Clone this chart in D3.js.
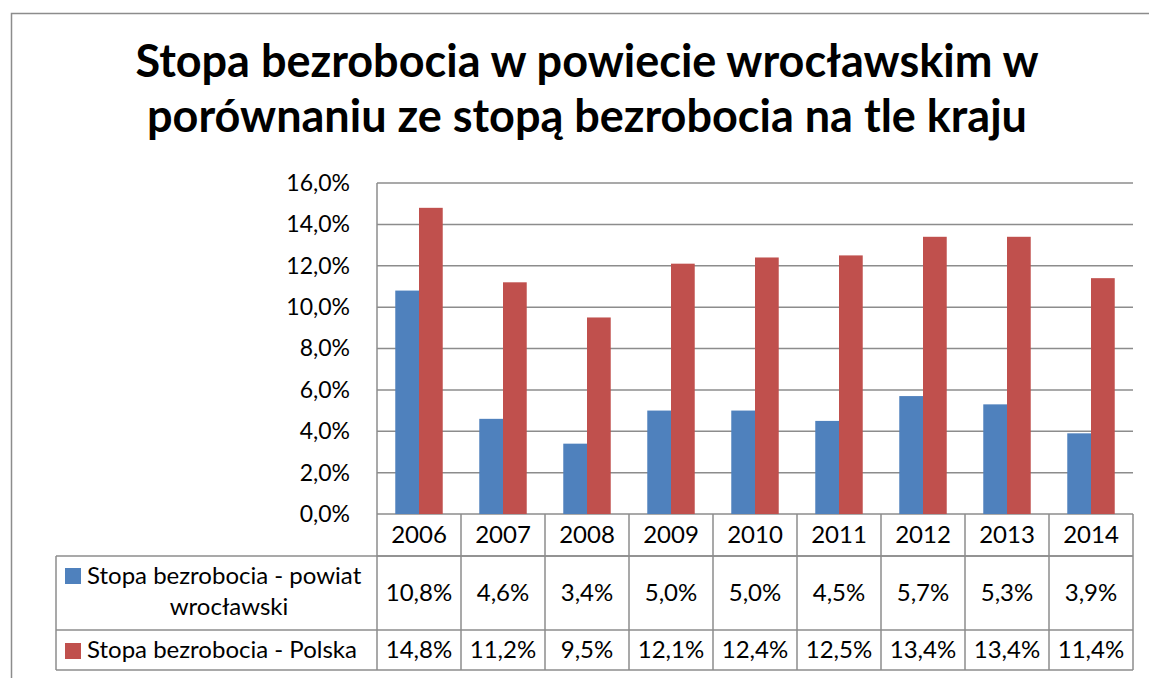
<!DOCTYPE html>
<html>
<head>
<meta charset="utf-8">
<script src="https://cdn.jsdelivr.net/npm/d3@7"></script>
<style>
  body { margin: 0; background: #fff; }
  text { font-family: Lato, "Open Sans", sans-serif; fill: #000; }
</style>
</head>
<body>
<svg id="chart" width="1149" height="678"></svg>
<script>
var years = ["2006","2007","2008","2009","2010","2011","2012","2013","2014"];
var powiat = [10.8, 4.6, 3.4, 5.0, 5.0, 4.5, 5.7, 5.3, 3.9];
var polska = [14.8, 11.2, 9.5, 12.1, 12.4, 12.5, 13.4, 13.4, 11.4];
var colors = ["#4F81BD", "#C0504D"];
var yTicks = [0, 2, 4, 6, 8, 10, 12, 14, 16];
var titleLines = ["Stopa bezrobocia w powiecie wrocławskim w", "porównaniu ze stopą bezrobocia na tle kraju"];

var fmt = function(v){ return v.toFixed(1).replace(".", ",") + "%"; };

var svg = d3.select("#chart");
var grid = "#8c8c8c";
var fs = "23px", fsT = "24px";

// outer chart border
svg.append("rect").attr("x", 11.5).attr("y", 13.5).attr("width", 1150).attr("height", 700)
  .attr("fill", "none").attr("stroke", grid).attr("stroke-width", 1.5);

// title
svg.selectAll(".title").data(titleLines).enter().append("text")
  .attr("class", "title")
  .attr("x", 587).attr("y", function(d, i){ return 77 + i * 55; })
  .attr("text-anchor", "middle")
  .style("font-weight", "bold").style("font-size", "45px")
  .text(function(d){ return d; });

var pLeft = 377, pRight = 1133, pTop = 183, pBottom = 514;
var x = d3.scaleBand().domain(years).range([pLeft, pRight]);
var xs = d3.scaleBand().domain([0, 1]).range([0, x.bandwidth()]).paddingInner(0).paddingOuter(0.77);
var y = d3.scaleLinear().domain([0, 16]).range([pBottom, pTop]);

// gridlines
svg.append("g").selectAll("line").data(yTicks).enter().append("line")
  .attr("x1", pLeft).attr("x2", pRight)
  .attr("y1", function(d){ return y(d); }).attr("y2", function(d){ return y(d); })
  .attr("stroke", grid).attr("stroke-width", 1.5);

// y axis labels
var yAxis = d3.axisLeft(y).tickValues(yTicks).tickSize(0).tickPadding(27)
  .tickFormat(function(d){ return d.toFixed(1).replace(".", ",") + "%"; });
var ya = svg.append("g").attr("transform", "translate(" + pLeft + ",0)").call(yAxis);
ya.select(".domain").remove();
ya.selectAll("text").style("font-size", fs).style("font-family", "Lato, sans-serif").attr("fill", "#000");
svg.append("line").attr("x1", pLeft).attr("x2", pLeft).attr("y1", pTop).attr("y2", pBottom)
  .attr("stroke", grid).attr("stroke-width", 1.5);

// bars
var series = [powiat, polska];
series.forEach(function(vals, s){
  svg.append("g").selectAll("rect").data(vals).enter().append("rect")
    .attr("x", function(d, i){ return x(years[i]) + xs(s); })
    .attr("width", xs.bandwidth())
    .attr("y", function(d){ return y(d); })
    .attr("height", function(d){ return pBottom - y(d); })
    .attr("fill", colors[s]);
});

// data table
var tLeft = 56, row1 = pBottom, row2 = 556, row3 = 630, row4 = 670;
var tbl = svg.append("g").attr("stroke", grid).attr("stroke-width", 1.5);
tbl.append("line").attr("x1", pLeft).attr("x2", pRight).attr("y1", row2).attr("y2", row2);
[row2, row3, row4].forEach(function(r){
  tbl.append("line").attr("x1", tLeft).attr("x2", pRight).attr("y1", r).attr("y2", r);
});
tbl.append("line").attr("x1", tLeft).attr("x2", tLeft).attr("y1", row2).attr("y2", row4);
years.forEach(function(yr){
  tbl.append("line").attr("x1", x(yr)).attr("x2", x(yr)).attr("y1", row1).attr("y2", row4);
});
tbl.append("line").attr("x1", pRight).attr("x2", pRight).attr("y1", row1).attr("y2", row4);

// year labels
svg.append("g").selectAll("text").data(years).enter().append("text")
  .attr("x", function(d){ return x(d) + x.bandwidth() / 2; })
  .attr("y", row1 + 29).attr("text-anchor", "middle").style("font-size", fsT)
  .text(function(d){ return d; });

// values
var rowBase = [601, 658];
series.forEach(function(vals, s){
  svg.append("g").selectAll("text").data(vals).enter().append("text")
    .attr("x", function(d, i){ return x(years[i]) + x.bandwidth() / 2; })
    .attr("y", rowBase[s]).attr("text-anchor", "middle").style("font-size", fsT)
    .text(fmt);
});

// legend keys in table
svg.append("rect").attr("x", 65).attr("y", 568).attr("width", 16).attr("height", 16).attr("fill", colors[0]);
svg.append("text").attr("x", 87).attr("y", 584).style("font-size", fsT).text("Stopa bezrobocia - powiat");
svg.append("text").attr("x", 229).attr("y", 615).attr("text-anchor", "middle").style("font-size", fsT).text("wrocławski");
svg.append("rect").attr("x", 65).attr("y", 643).attr("width", 16).attr("height", 16).attr("fill", colors[1]);
svg.append("text").attr("x", 87).attr("y", 658).style("font-size", fsT).text("Stopa bezrobocia - Polska");
</script>
</body>
</html>
